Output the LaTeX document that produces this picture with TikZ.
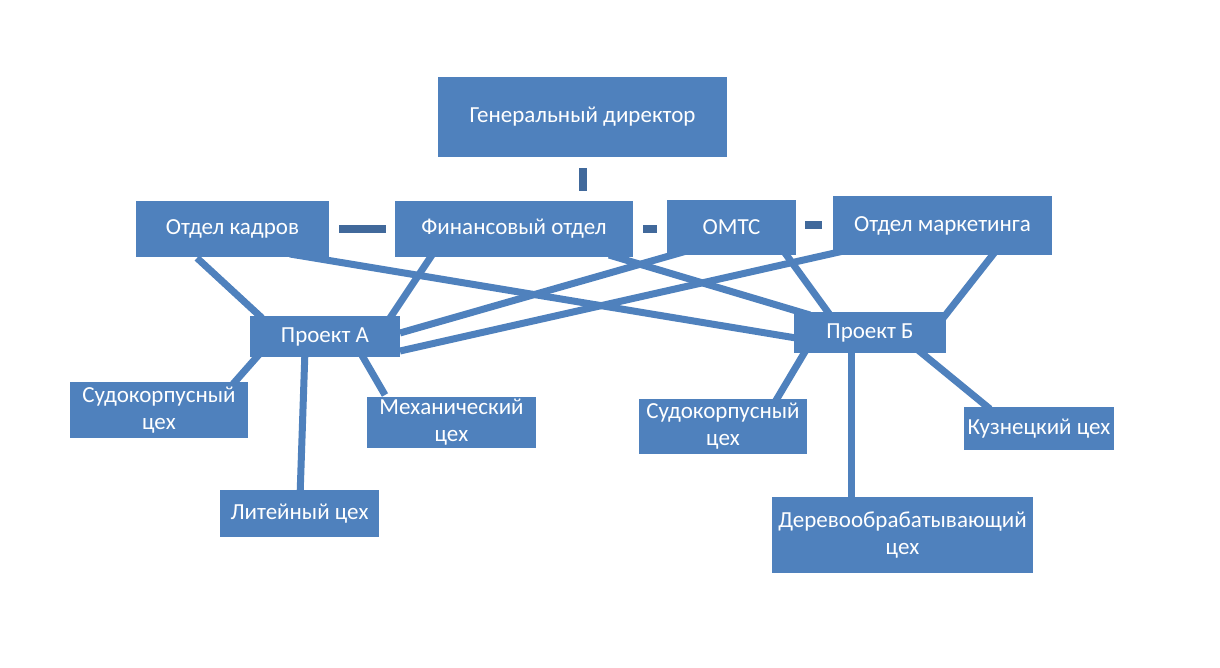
\documentclass[tikz,border=0pt]{standalone}
\usepackage{fontspec}
\setmainfont{Carlito}
\usetikzlibrary{backgrounds}
\definecolor{boxblue}{HTML}{4F81BD}
\definecolor{bardark}{HTML}{41699B}
\tikzset{
  box/.style={fill=boxblue, draw=none, inner sep=2pt, text=white, align=center,
    font=\fontsize{23}{27}\selectfont},
  link/.style={draw=boxblue, line width=7pt},
  bar/.style={draw=bardark, line width=8pt}
}
\begin{document}
\begin{tikzpicture}[x=1pt,y=-1pt]
\useasboundingbox (0,0) rectangle (1220,668);
% top level
\node[box, minimum width=289pt, minimum height=80pt] (gen) at (582.5,117) {Генеральный директор};
% departments
\node[box, minimum width=193pt, minimum height=56pt] (kadr) at (232.5,229) {Отдел кадров};
\node[box, minimum width=238pt, minimum height=56pt] (fin) at (514,229) {Финансовый отдел};
\node[box, minimum width=129pt, minimum height=55pt] (omts) at (731.5,227.5) {ОМТС};
\node[box, minimum width=219pt, minimum height=59pt] (mark) at (942.5,225.5) {Отдел маркетинга};
% projects
\node[box, minimum width=150pt, minimum height=41pt] (projA) at (325,336.5) {Проект А};
\node[box, minimum width=152pt, minimum height=41pt] (projB) at (870,332.5) {Проект Б};
% workshops
\node[box, minimum width=178pt, minimum height=56pt] (sudA) at (159,410) {Судокорпусный\\цех};
\node[box, minimum width=169pt, minimum height=51pt] (mech) at (451.5,422.5) {Механический\\цех};
\node[box, minimum width=159pt, minimum height=47pt] (lit) at (299.5,513.5) {Литейный цех};
\node[box, minimum width=168pt, minimum height=55pt] (sudB) at (723,426.5) {Судокорпусный\\цех};
\node[box, minimum width=150pt, minimum height=43pt] (kuz) at (1039,428.5) {Кузнецкий цех};
\node[box, minimum width=261pt, minimum height=76pt] (derev) at (902.5,535) {Деревообрабатывающий\\цех};
% short bars
\draw[bar] ([yshift=-11pt]gen.south) -- ([yshift=-34pt]gen.south);
\draw[bar] ([xshift=10pt]kadr.east) -- ([xshift=-9pt]fin.west);
\draw[bar] ([xshift=10pt]fin.east) -- ([xshift=-10pt]fin.east -| omts.west);
\draw[bar] ([xshift=9pt]omts.east |- mark.west) -- ([xshift=-11pt]mark.west);
% connectors
\begin{scope}[on background layer]
\fill[white] (0,0) rectangle (1220,668);
\draw[link] ([shift={(-35.5,29)}]kadr.center) -- ([shift={(-63,-18.5)}]projA.center);
\draw[link] ([shift={(-80,23)}]fin.center) -- ([shift={(65,-18.5)}]projA.center);
\draw[link] ([shift={(57.5,25)}]kadr.center) -- ([shift={(-74,5.5)}]projB.center);
\draw[link] ([shift={(95,26)}]fin.center) -- ([shift={(-60,-17.5)}]projB.center);
\draw[link] ([shift={(-41.5,22.5)}]omts.center) -- ([shift={(75,-3.5)}]projA.center);
\draw[link] ([shift={(-94.5,24.5)}]mark.center) -- ([shift={(75,14.5)}]projA.center);
\draw[link] ([shift={(45.5,14.5)}]omts.center) -- ([shift={(-40,-17.5)}]projB.center);
\draw[link] ([shift={(52.5,26.5)}]mark.center) -- ([shift={(70,-10.5)}]projB.center);
\draw[link] ([shift={(-62,13.5)}]projA.center) -- ([shift={(74,-26)}]sudA.center);
\draw[link] ([shift={(-20,13.5)}]projA.center) -- ([shift={(0.5,-16.5)}]lit.center);
\draw[link] ([shift={(35,15.5)}]projA.center) -- ([shift={(-66.5,-27.5)}]mech.center);
\draw[link] ([shift={(-58,7.5)}]projB.center) -- ([shift={(52,-24.5)}]sudB.center);
\draw[link] ([shift={(-19,17.5)}]projB.center) -- ([shift={(-51.5,-28)}]derev.center);
\draw[link] ([shift={(48,17.5)}]projB.center) -- ([shift={(-49,-19.5)}]kuz.center);
\end{scope}
\end{tikzpicture}
\end{document}
